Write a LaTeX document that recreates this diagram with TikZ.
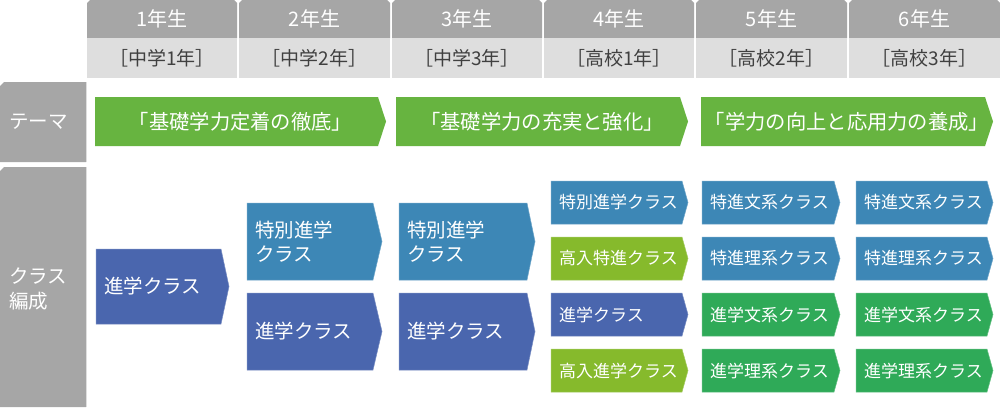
\documentclass[tikz,border=0pt]{standalone}
\usepackage{fontspec}
\setmainfont{Noto Sans CJK JP}
\definecolor{hdrdark}{HTML}{A6A6A6}
\definecolor{hdrlight}{HTML}{DEDEDE}
\definecolor{themegreen}{HTML}{67B440}
\definecolor{darkblue}{HTML}{4A66AE}
\definecolor{steelblue}{HTML}{3D87B6}
\definecolor{yellowgreen}{HTML}{86BA2C}
\definecolor{classgreen}{HTML}{2FAA58}
\definecolor{darktext}{HTML}{404040}
\tikzset{
  boxtext/.style={text=white, inner sep=0pt, align=left, font=\fontsize{19.5}{24}\selectfont},
  smalltext/.style={text=white, inner sep=0pt, align=left, font=\fontsize{17}{22}\selectfont},
  themetext/.style={text=white, inner sep=0pt, font=\fontsize{20.3}{24}\selectfont},
  hdrtop/.style={text=white, inner sep=0pt, font=\fontsize{20}{22}\selectfont},
  hdrbot/.style={text=darktext, inner sep=0pt, font=\fontsize{19}{22}\selectfont},
  sidetext/.style={text=white, inner sep=0pt, align=left, font=\fontsize{19.5}{25}\selectfont},
}
% name, x1, y1, x2, y2, tip, colour, text style, text
\newcommand\abox[9]{%
  \fill[#7, draw=#7!75!white, line width=0.5pt] (#2,#3) -- ({#4-#6},#3) -- (#4,{(#3+#5)/2}) -- ({#4-#6},#5) -- (#2,#5) -- cycle;
  \node[#8, anchor=west] (#1) at ({#2+8},{(#3+#5)/2}) {#9};}
\newcommand\tbox[6]{%
  \fill[themegreen] (#2,#3) -- ({#4-8},#3) -- (#4,{(#3+#5)/2}) -- ({#4-8},#5) -- (#2,#5) -- cycle;
  \node[themetext] (#1) at ({(#2+#4)/2},{(#3+#5)/2}) {#6};}
\newcommand\hcol[5]{%
  \fill[hdrdark] (#2,38) -- (#2,3) -- ({#2+3},0) -- ({#3-3},0) -- (#3,3) -- (#3,38) -- cycle;
  \fill[hdrlight] (#2,38) rectangle (#3,78);
  \node[hdrtop] (#1t) at ({(#2+#3)/2},19) {#4};
  \node[hdrbot] (#1b) at ({(#2+#3)/2},58) {#5};}
\begin{document}
\begin{tikzpicture}[x=1pt,y=-1pt]
\useasboundingbox[fill=white] (0,0) rectangle (1000,407);
% header
\hcol{y1}{87}{237}{1年生}{［中学1年］}
\hcol{y2}{239}{390}{2年生}{［中学2年］}
\hcol{y3}{392}{542}{3年生}{［中学3年］}
\hcol{y4}{544}{694}{4年生}{［高校1年］}
\hcol{y5}{696}{847}{5年生}{［高校2年］}
\hcol{y6}{849}{1000}{6年生}{［高校3年］}
% side labels
\fill[hdrdark] (0,162) -- (0,86) -- (4,82) -- (86,82) -- (86,162) -- cycle;
\draw[hdrlight, line width=0.8pt] (86.5,82) -- (86.5,162);
\node[sidetext, anchor=west] (theme) at (9,122) {テーマ};
\fill[hdrdark] (0,407) -- (0,171) -- (4,167) -- (86,167) -- (86,407) -- cycle;
\draw[hdrlight, line width=0.8pt] (86.5,167) -- (86.5,407);
\node[sidetext, anchor=west] (classes) at (9,289) {クラス\\編成};
% themes
\tbox{t1}{95}{97}{386}{146}{「基礎学力定着の徹底」}
\tbox{t2}{396}{97}{688}{146}{「基礎学力の充実と強化」}
\tbox{t3}{701}{97}{993}{146}{「学力の向上と応用力の養成」}
% year 1
\abox{c1}{96}{249}{229}{324}{8}{darkblue}{boxtext}{進学クラス}
% year 2
\abox{c2a}{247}{203}{382}{280}{9}{steelblue}{boxtext}{特別進学\\クラス}
\abox{c2b}{247}{293}{382}{370}{9}{darkblue}{boxtext}{進学クラス}
% year 3
\abox{c3a}{399}{203}{535}{280}{8}{steelblue}{boxtext}{特別進学\\クラス}
\abox{c3b}{399}{293}{535}{370}{8}{darkblue}{boxtext}{進学クラス}
% year 4
\abox{c4a}{551}{181}{688}{224}{6}{steelblue}{smalltext}{特別進学クラス}
\abox{c4b}{551}{237}{688}{280}{6}{yellowgreen}{smalltext}{高入特進クラス}
\abox{c4c}{551}{293}{688}{336}{6}{darkblue}{smalltext}{進学クラス}
\abox{c4d}{551}{349}{688}{392}{6}{yellowgreen}{smalltext}{高入進学クラス}
% year 5
\abox{c5a}{702}{181}{840}{224}{6}{steelblue}{smalltext}{特進文系クラス}
\abox{c5b}{702}{237}{840}{280}{6}{steelblue}{smalltext}{特進理系クラス}
\abox{c5c}{702}{293}{840}{336}{6}{classgreen}{smalltext}{進学文系クラス}
\abox{c5d}{702}{349}{840}{392}{6}{classgreen}{smalltext}{進学理系クラス}
% year 6
\abox{c6a}{856}{181}{993}{224}{6}{steelblue}{smalltext}{特進文系クラス}
\abox{c6b}{856}{237}{993}{280}{6}{steelblue}{smalltext}{特進理系クラス}
\abox{c6c}{856}{293}{993}{336}{6}{classgreen}{smalltext}{進学文系クラス}
\abox{c6d}{856}{349}{993}{392}{6}{classgreen}{smalltext}{進学理系クラス}
\end{tikzpicture}
\end{document}
